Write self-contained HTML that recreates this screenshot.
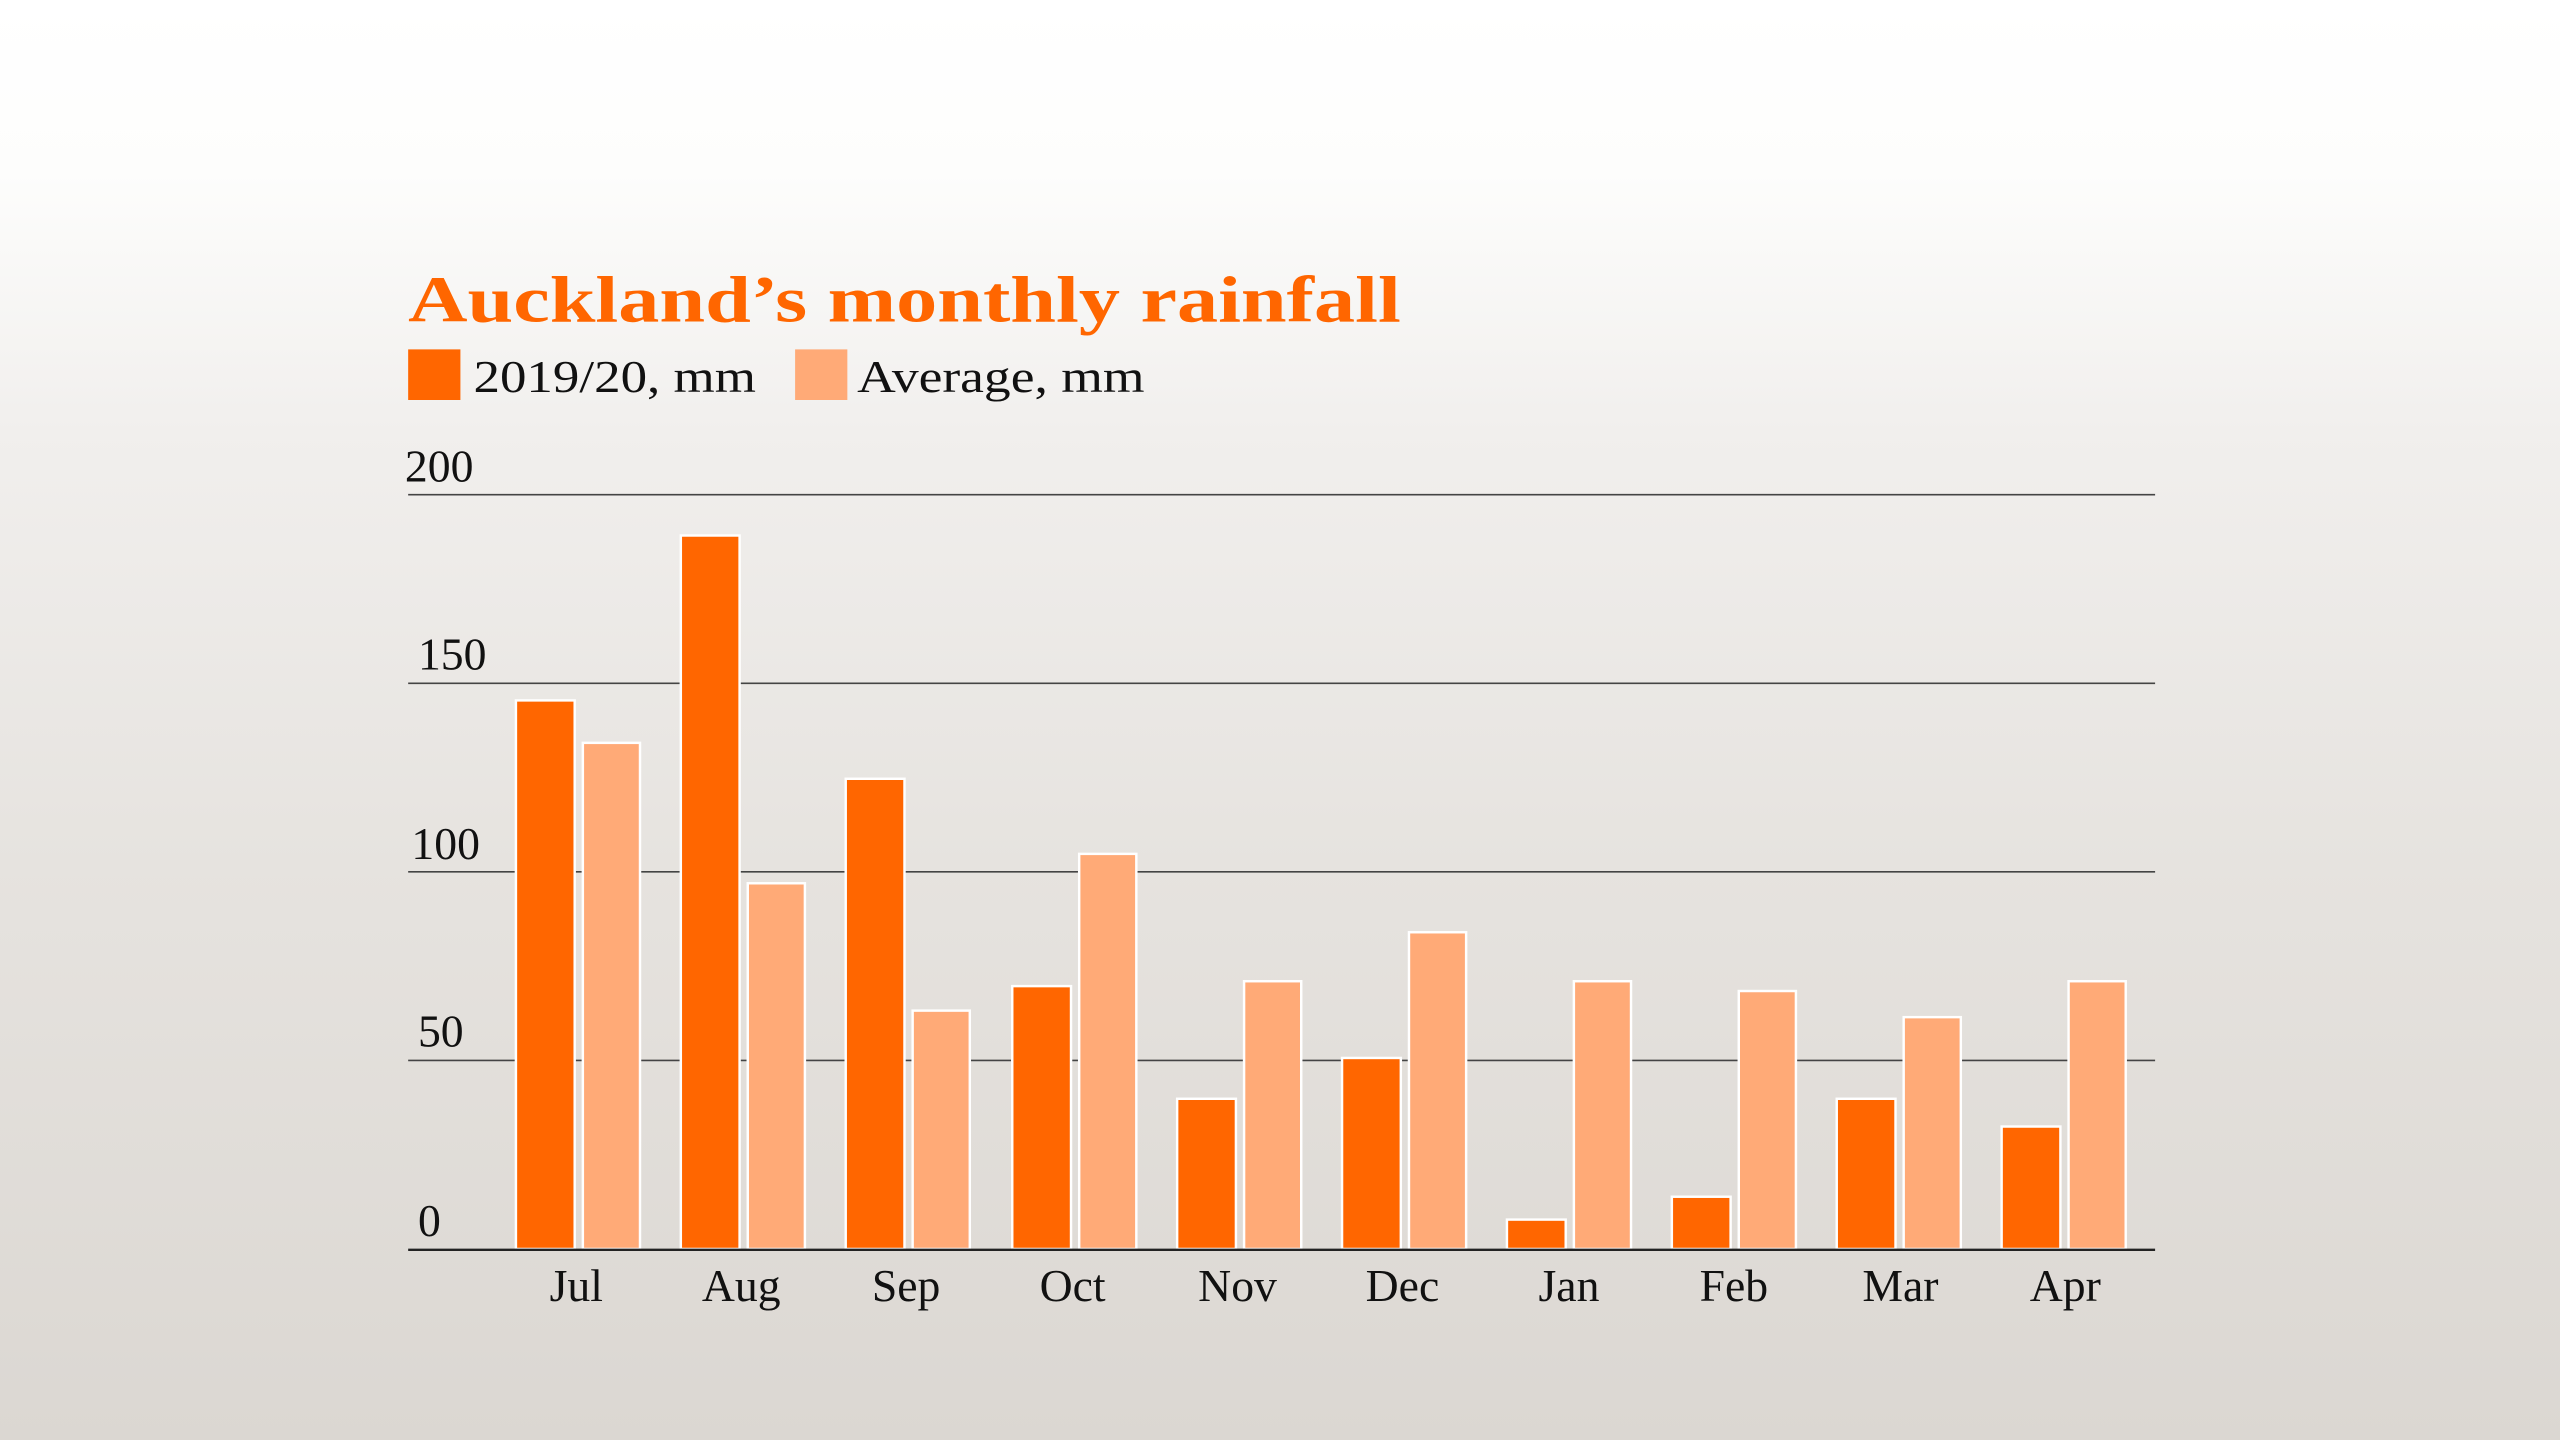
<!DOCTYPE html>
<html><head><meta charset="utf-8"><style>html,body{margin:0;padding:0;width:2560px;height:1440px;overflow:hidden;background:#fff}</style></head>
<body>
<svg width="2560" height="1440" viewBox="0 0 1568 882" xmlns="http://www.w3.org/2000/svg" font-family="'Liberation Serif', serif">
<defs>
<linearGradient id="bg" x1="0" y1="0" x2="0" y2="1">
<stop offset="0" stop-color="#ffffff"/>
<stop offset="0.12" stop-color="#fdfdfc"/>
<stop offset="0.3" stop-color="#f1efed"/>
<stop offset="0.6" stop-color="#e6e3df"/>
<stop offset="1" stop-color="#dbd7d2"/>
</linearGradient>
</defs>
<rect width="1568" height="882" fill="url(#bg)"/>
<text x="250" y="197" font-size="40" font-weight="bold" fill="#ff6600" textLength="608" lengthAdjust="spacingAndGlyphs">Auckland’s monthly rainfall</text>
<rect x="250" y="214" width="32" height="31" fill="#ff6600"/>
<text x="290" y="240" font-size="28" fill="#111" textLength="173" lengthAdjust="spacingAndGlyphs">2019/20, mm</text>
<rect x="487" y="214" width="32" height="31" fill="#ffaa77"/>
<text x="525" y="240" font-size="28" fill="#111" textLength="176" lengthAdjust="spacingAndGlyphs">Average, mm</text>
<g stroke="#444" stroke-width="1">
<line x1="250" y1="303" x2="1320" y2="303"/>
<line x1="250" y1="418.5" x2="1320" y2="418.5"/>
<line x1="250" y1="534" x2="1320" y2="534"/>
<line x1="250" y1="649.5" x2="1320" y2="649.5"/>
</g>
<g font-size="28" fill="#111">
<text x="248" y="295">200</text>
<text x="256" y="410">150</text>
<text x="252" y="526">100</text>
<text x="256" y="641">50</text>
<text x="256" y="757">0</text>
</g>
<g stroke="#fff" stroke-width="1.5">
<rect x="316" y="429" width="36" height="336" fill="#ff6600"/><rect x="357" y="455" width="35" height="310" fill="#ffaa77"/>
<rect x="417" y="328" width="36" height="437" fill="#ff6600"/><rect x="458" y="541" width="35" height="224" fill="#ffaa77"/>
<rect x="518" y="477" width="36" height="288" fill="#ff6600"/><rect x="559" y="619" width="35" height="146" fill="#ffaa77"/>
<rect x="620" y="604" width="36" height="161" fill="#ff6600"/><rect x="661" y="523" width="35" height="242" fill="#ffaa77"/>
<rect x="721" y="673" width="36" height="92" fill="#ff6600"/><rect x="762" y="601" width="35" height="164" fill="#ffaa77"/>
<rect x="822" y="648" width="36" height="117" fill="#ff6600"/><rect x="863" y="571" width="35" height="194" fill="#ffaa77"/>
<rect x="923" y="747" width="36" height="18" fill="#ff6600"/><rect x="964" y="601" width="35" height="164" fill="#ffaa77"/>
<rect x="1024" y="733" width="36" height="32" fill="#ff6600"/><rect x="1065" y="607" width="35" height="158" fill="#ffaa77"/>
<rect x="1125" y="673" width="36" height="92" fill="#ff6600"/><rect x="1166" y="623" width="35" height="142" fill="#ffaa77"/>
<rect x="1226" y="690" width="36" height="75" fill="#ff6600"/><rect x="1267" y="601" width="35" height="164" fill="#ffaa77"/>
</g>
<line x1="250" y1="765.5" x2="1320" y2="765.5" stroke="#222" stroke-width="1.5"/>
<g font-size="28" fill="#111" text-anchor="middle">
<text x="353" y="797">Jul</text>
<text x="454" y="797">Aug</text>
<text x="555" y="797">Sep</text>
<text x="657" y="797">Oct</text>
<text x="758" y="797">Nov</text>
<text x="859" y="797">Dec</text>
<text x="961" y="797">Jan</text>
<text x="1062" y="797">Feb</text>
<text x="1164" y="797">Mar</text>
<text x="1265" y="797">Apr</text>
</g>
</svg>
</body></html>
